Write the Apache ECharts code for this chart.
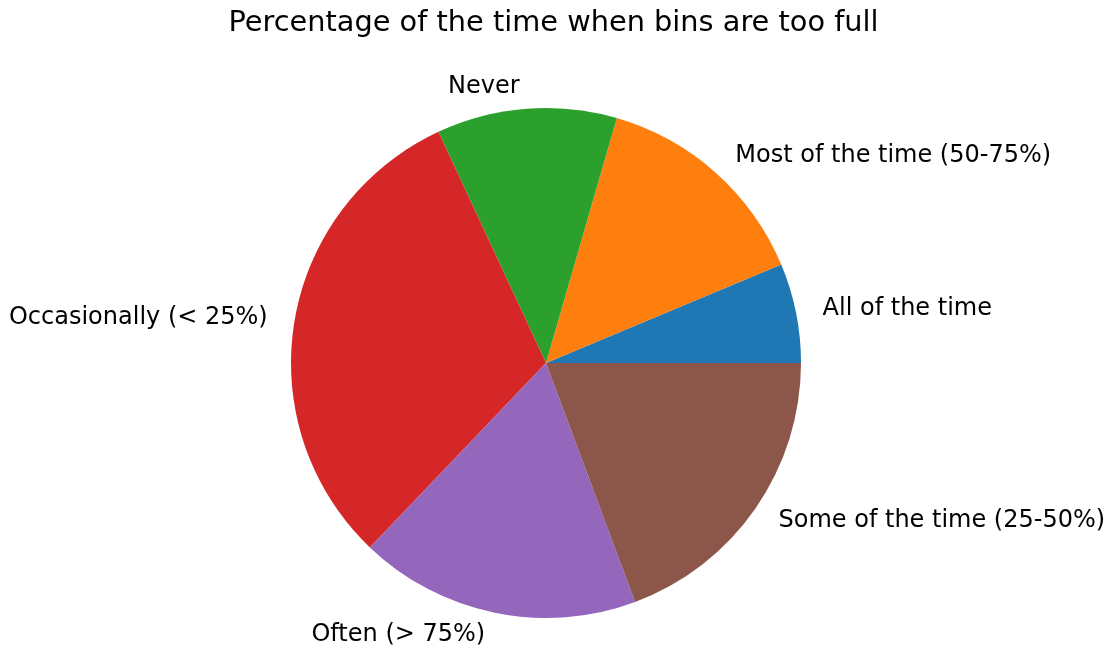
<!DOCTYPE html>
<html>
<head>
<meta charset="utf-8">
<script src="https://cdn.jsdelivr.net/npm/echarts@6/dist/echarts.min.js"></script>
<style>
html, body { margin: 0; padding: 0; background: #fff; }
#chart { width: 1107px; height: 654px; }
</style>
</head>
<body>
<div id="chart"></div>
<script>
var categories = [
	"All of the time",
	"Most of the time (50-75%)",
	"Never",
	"Occasionally (< 25%)",
	"Often (> 75%)",
	"Some of the time (25-50%)"
];
var shares = [6.3, 14.2, 11.4, 30.9, 17.8, 19.3];
var colors = ['#1f77b4', '#ff7f0e', '#2ca02c', '#d62728', '#9467bd', '#8c564b'];

var pieData = [];
for (var i = 0; i < categories.length; i++) {
	pieData.push({ name: categories[i], value: shares[i] });
}

var dom = document.getElementById("chart");
var myChart = echarts.init(dom);
var option = {
	animation: false,
	color: colors,
	title: {
		text: 'Percentage of the time when bins are too full',
		left: 'center',
		top: 4,
		textStyle: {
			fontFamily: 'DejaVu Sans',
			fontSize: 28.8,
			fontWeight: 'normal',
			color: '#000'
		}
	},
	series: [
		{
			type: 'pie',
			center: [546, 363],
			radius: 255,
			startAngle: 0,
			clockwise: false,
			avoidLabelOverlap: false,
			itemStyle: { borderWidth: 0 },
			label: {
				show: true,
				position: 'outside',
				fontFamily: 'DejaVu Sans',
				fontSize: 24,
				color: '#000'
			},
			labelLine: { show: false, length: 22, length2: 0 },
			emphasis: { disabled: true },
			data: pieData
		}
	]
};
myChart.setOption(option);
</script>
</body>
</html>
